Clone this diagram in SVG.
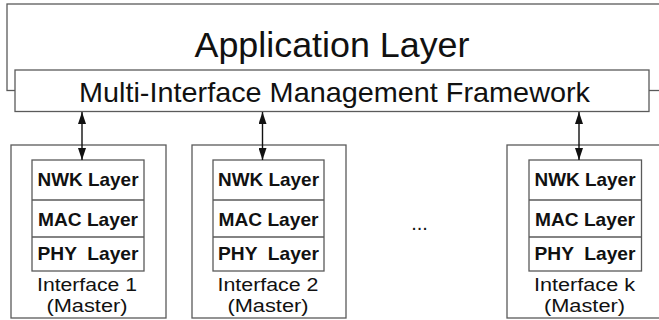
<svg xmlns="http://www.w3.org/2000/svg" width="659" height="320" viewBox="0 0 659 320">
<defs>
<style>
.box{fill:#fff;stroke:#5a5a5a;stroke-width:1.3}
.lay{fill:none;stroke:#5a5a5a;stroke-width:1.3}
.t{font-family:"Liberation Sans",Arial,sans-serif;fill:#111;text-anchor:middle}
.i{font-family:"Liberation Sans",Arial,sans-serif;fill:#111;text-anchor:middle;font-size:18.3px}
.b{font-family:"Liberation Sans",Arial,sans-serif;font-weight:bold;fill:#111;text-anchor:middle;font-size:17.8px;white-space:pre}
.c{stroke:#111;stroke-width:1.4;fill:none;marker-start:url(#ah);marker-end:url(#ah)}
</style>
<marker id="ah" viewBox="0 0 12 8" refX="12" refY="4" markerWidth="12" markerHeight="8" markerUnits="userSpaceOnUse" orient="auto-start-reverse">
<path d="M0,0 L12,4 L0,8 Z" fill="#111"/>
</marker>
</defs>
<g id="app">
<rect class="box" x="7" y="4" width="700" height="86.5"/>
<text class="t" x="332" y="56.7" font-size="35" textLength="275" lengthAdjust="spacingAndGlyphs">Application Layer</text>
</g>
<g id="framework">
<rect class="box" x="15" y="70" width="634" height="41.5"/>
<text class="t" x="334.5" y="101.5" font-size="28" textLength="511" lengthAdjust="spacingAndGlyphs">Multi-Interface Management Framework</text>
</g>
<g id="iface1">
<rect class="box" x="11" y="145" width="155" height="173"/>
<rect class="box" x="32" y="160" width="112" height="111"/>
<line class="lay" x1="32" y1="200" x2="144" y2="200"/>
<line class="lay" x1="32" y1="237" x2="144" y2="237"/>
<text class="b" x="88" y="185.5" textLength="101" lengthAdjust="spacingAndGlyphs">NWK Layer</text>
<text class="b" x="88" y="225.5" textLength="100" lengthAdjust="spacingAndGlyphs">MAC Layer</text>
<text class="b" x="88" y="260" textLength="101" lengthAdjust="spacingAndGlyphs" xml:space="preserve">PHY  Layer</text>
<text class="i" x="87" y="291" textLength="100" lengthAdjust="spacingAndGlyphs">Interface 1</text>
<text class="i" x="87" y="311.5" textLength="81" lengthAdjust="spacingAndGlyphs">(Master)</text>
</g>
<g id="iface2">
<rect class="box" x="192" y="145" width="154" height="173"/>
<rect class="box" x="213" y="160" width="111" height="111"/>
<line class="lay" x1="213" y1="200" x2="324" y2="200"/>
<line class="lay" x1="213" y1="237" x2="324" y2="237"/>
<text class="b" x="268.5" y="185.5" textLength="101" lengthAdjust="spacingAndGlyphs">NWK Layer</text>
<text class="b" x="268.5" y="225.5" textLength="100" lengthAdjust="spacingAndGlyphs">MAC Layer</text>
<text class="b" x="268.5" y="260" textLength="101" lengthAdjust="spacingAndGlyphs" xml:space="preserve">PHY  Layer</text>
<text class="i" x="268" y="291" textLength="101" lengthAdjust="spacingAndGlyphs">Interface 2</text>
<text class="i" x="268" y="311.5" textLength="81" lengthAdjust="spacingAndGlyphs">(Master)</text>
</g>
<g id="ifacek">
<rect class="box" x="507" y="145" width="200" height="173"/>
<rect class="box" x="529" y="160" width="112.5" height="111"/>
<line class="lay" x1="529" y1="200" x2="641.5" y2="200"/>
<line class="lay" x1="529" y1="237" x2="641.5" y2="237"/>
<text class="b" x="585" y="185.5" textLength="101" lengthAdjust="spacingAndGlyphs">NWK Layer</text>
<text class="b" x="585" y="225.5" textLength="100" lengthAdjust="spacingAndGlyphs">MAC Layer</text>
<text class="b" x="585" y="260" textLength="101" lengthAdjust="spacingAndGlyphs" xml:space="preserve">PHY  Layer</text>
<text class="i" x="584.5" y="291" textLength="101" lengthAdjust="spacingAndGlyphs">Interface k</text>
<text class="i" x="584.5" y="311.5" textLength="81" lengthAdjust="spacingAndGlyphs">(Master)</text>
</g>
<g id="ellipsis">
<text class="t" x="419.5" y="230" font-size="20">...</text>
</g>
<g id="connectors">
<line class="c" x1="82" y1="112" x2="82" y2="160"/>
<line class="c" x1="262.5" y1="112" x2="262.5" y2="160"/>
<line class="c" x1="579" y1="112" x2="579" y2="160"/>
</g>
</svg>
